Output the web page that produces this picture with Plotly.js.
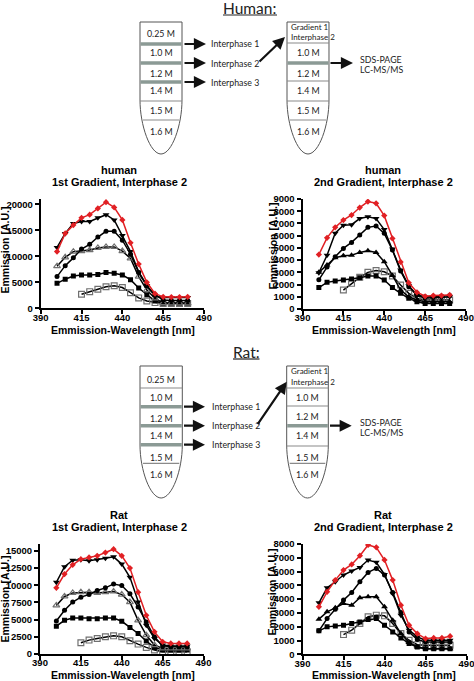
<!DOCTYPE html>
<html><head><meta charset="utf-8">
<script src="https://cdn.plot.ly/plotly-3.0.1.min.js"></script>
<style>html,body{margin:0;padding:0;background:#fff;} #chart{width:474px;height:681px;}</style>
</head><body><div id="chart"></div>
<script>
// ---------------- DATA ----------------
const wavelengths = [400,405,410,415,420,425,430,435,440,445,450,455,460,465,470,475,480];
const wavelengthsFrom415 = [415,420,425,430,435,440,445,450,455,460,465,470,475,480];
const wavelengthTicks = [390,415,440,465,490];

// human, 1st gradient, interphase 2
const human1Red        = [10900,14400,16000,17400,18000,19200,20400,19400,17000,12600,8500,5000,2800,2200,2150,2150,2200];
const human1DownTri    = [11700,14400,16300,16700,16700,17400,18000,17000,14000,10900,7000,4400,2300,2100,2100,2100,2100];
const human1Circle     = [6100,8200,9700,11400,12300,13700,14800,14800,13100,10400,6900,4300,2600,1600,1500,1500,1500];
const human1OpenTri    = [8100,9800,10900,11000,11200,11600,11800,11800,11000,9600,6100,3500,1900,1000,950,950,950];
const human1Square     = [4800,5600,6200,6400,6400,6500,6900,6750,6400,5500,3900,2600,1400,950,950,950,950];
const human1OpenSquare = [2700,3200,3650,4150,4350,4000,3000,2000,1400,1100,900,900,900,900];

// human, 2nd gradient, interphase 2
const human2Red        = [4450,5820,6680,7280,7690,8300,8790,8650,7640,5770,3850,2140,1370,1040,1100,1100,1150];
const human2DownTri    = [2970,4400,6200,6850,6900,7400,7550,7400,6500,4900,3200,1900,1100,900,900,950,1000];
const human2Circle     = [2390,3430,4280,4960,5450,6050,6680,6790,6190,4820,3100,1830,1140,1000,1000,1050,1100];
const human2UpTri      = [3000,3600,4200,4360,4400,4630,4770,4630,3870,2750,1550,1000,740,600,600,600,600];
const human2Square     = [1750,2180,2290,2370,2450,2560,2700,2700,2370,1750,1280,870,600,460,460,460,460];
const human2OpenSquare = [1550,2100,2590,3000,3150,3050,2700,1960,1280,870,740,740,740,740];

// rat, 1st gradient, interphase 2
const rat1Red        = [9620,11630,12980,13800,14040,14280,14760,15240,14280,12500,8990,5630,3220,1780,1540,1540,1540];
const rat1DownTri    = [10430,12690,13650,13700,13560,13700,13940,14130,13080,11150,7550,4180,2260,1300,1150,1150,1150];
const rat1OpenTri    = [7070,8370,8890,8990,8990,8890,8990,9090,8650,7550,4900,2740,1300,820,820,820,820];
const rat1Circle     = [4810,6350,7550,8270,8650,9230,9620,10190,9950,8750,6830,4660,2500,1150,1060,1060,1060];
const rat1Square     = [4040,4900,5240,5240,5140,5140,5240,5240,4760,3850,2980,1880,960,580,580,580,580];
const rat1OpenSquare = [1630,2020,2260,2500,2640,2500,1920,1440,960,580,340,340,340,340];

// rat, 2nd gradient, interphase 2
const rat2Red        = [3440,4530,5380,6110,6520,7150,7930,7760,6840,5380,3560,2110,1500,1140,1190,1190,1310];
const rat2DownTri    = [3730,4820,5260,5750,6040,6300,6840,6670,5790,4410,2840,1750,1260,1020,1020,1020,1020];
const rat2Circle     = [1700,2590,3270,3930,4480,5260,5940,6230,5750,4480,3030,1620,1070,900,900,900,900];
const rat2UpTri      = [2550,3080,3370,3680,3560,4100,4170,4170,3440,2470,1500,850,530,410,410,410,410];
const rat2Square     = [1700,1990,2060,2110,2230,2350,2520,2590,2110,1620,1190,780,530,410,410,410,410];
const rat2OpenSquare = [1430,1750,2230,2720,2840,2790,2230,1500,1020,700,650,650,650,650];

const panelTitles = [["human","1st Gradient, Interphase 2"],["human","2nd Gradient, Interphase 2"],["Rat","1st Gradient, Interphase 2"],["Rat","2nd Gradient, Interphase 2"]];
const yTitle = "Emmission [A.U.]";
const xTitle = "Emmission-Wavelength [nm]";

// ---------------- HELPERS ----------------
const W = 474, H = 681;
const X = p => p / W;
const Y = p => 1 - p / H;
const AX_FONT = "Liberation Sans, Arial, sans-serif";
const DIA_FONT = "Lato, Carlito, sans-serif";
const RED = "rgb(225,32,36)";

const STYLE = {
  red:        {line: RED,    marker: {symbol: "diamond", size: 4.8, color: RED}},
  down:       {line: "#000", marker: {symbol: "triangle-down", size: 6, color: "#000"}},
  circle:     {line: "#000", marker: {symbol: "circle", size: 5, color: "#000"}},
  openTri:    {line: "#000", marker: {symbol: "triangle-up-open", size: 6, color: "#707070", line: {width: 1.2}}},
  upTri:      {line: "#000", marker: {symbol: "triangle-up", size: 6, color: "#000"}},
  square:     {line: "#000", marker: {symbol: "square", size: 5, color: "#000"}},
  openSquare: {line: "#000", marker: {symbol: "square-open", size: 5.8, color: "#707070", line: {width: 1.2}}}
};

function series(xa, ya, xs, ys, key) {
  const s = STYLE[key];
  return {type: "scatter", mode: "lines+markers", x: xs, y: ys, xaxis: xa, yaxis: ya,
    line: {color: s.line, width: 1.5}, marker: s.marker, hoverinfo: "skip"};
}

const panels = [
  {xa: "x",  ya: "y",  data: [["openSquare",human1OpenSquare,true],["square",human1Square],["openTri",human1OpenTri],["circle",human1Circle],["down",human1DownTri],["red",human1Red]]},
  {xa: "x2", ya: "y2", data: [["openSquare",human2OpenSquare,true],["square",human2Square],["upTri",human2UpTri],["circle",human2Circle],["down",human2DownTri],["red",human2Red]]},
  {xa: "x3", ya: "y3", data: [["openSquare",rat1OpenSquare,true],["square",rat1Square],["openTri",rat1OpenTri],["circle",rat1Circle],["down",rat1DownTri],["red",rat1Red]]},
  {xa: "x4", ya: "y4", data: [["openSquare",rat2OpenSquare,true],["square",rat2Square],["upTri",rat2UpTri],["circle",rat2Circle],["down",rat2DownTri],["red",rat2Red]]}
];

const traces = [];
panels.forEach(p => p.data.forEach(d => traces.push(series(p.xa, p.ya, d[2] ? wavelengthsFrom415 : wavelengths, d[1], d[0]))));

// panel geometry (pixels)
const geo = [
  {x0: 40.7, x1: 204,   yb: 308.3, yt: 199.1, ymax: 21000, dt: 5000, tx: 119,   ty: 170, yx: 4.5,   yy: 250, xx: 123, xy: 330},
  {x0: 302.5, x1: 466,  yb: 309,   yt: 199,   ymax: 9000,  dt: 1000, tx: 383,   ty: 170, yx: 272.5, yy: 246, xx: 384, xy: 330},
  {x0: 40,   x1: 203.5, yb: 654,   yt: 544,   ymax: 16000, dt: 2500, tx: 119,   ty: 515, yx: 4.5,   yy: 599, xx: 123, xy: 675},
  {x0: 302.5, x1: 466.5,yb: 654.3, yt: 544,   ymax: 8000,  dt: 1000, tx: 383,   ty: 515, yx: 271.5, yy: 592, xx: 384, xy: 675}
];

const layout = {
  width: W, height: H, margin: {l: 0, r: 0, t: 0, b: 0},
  paper_bgcolor: "#fff", plot_bgcolor: "rgba(0,0,0,0)", showlegend: false,
  shapes: [], annotations: []
};

const tickFont = {family: AX_FONT, size: 9.5, color: "#000", weight: "bold"};
geo.forEach((g, i) => {
  const n = i === 0 ? "" : String(i + 1);
  layout["xaxis" + n] = {domain: [X(g.x0), X(g.x1)], anchor: "y" + n, range: [390, 490], tickvals: wavelengthTicks,
    showline: true, linewidth: 2, linecolor: "#000", ticks: "outside", ticklen: 4, tickwidth: 2, tickcolor: "#000",
    showgrid: false, zeroline: false, tickfont: tickFont, fixedrange: true, ticklabelstandoff: -5, ticklabeloverflow: "allow"};
  layout["yaxis" + n] = {domain: [Y(g.yb), Y(g.yt)], anchor: "x" + n, range: [0, g.ymax], dtick: g.dt, tick0: 0, tickformat: "d",
    showline: true, linewidth: 2, linecolor: "#000", ticks: "outside", ticklen: 4, tickwidth: 2, tickcolor: "#000",
    showgrid: false, zeroline: false, tickfont: tickFont, fixedrange: true, ticklabelstandoff: -2.5, ticklabeloverflow: "allow"};
  const tf = {family: AX_FONT, size: 11, color: "#000", weight: "bold"};
  layout.annotations.push(
    {text: "<b>" + panelTitles[i][0] + "</b>", x: X(g.tx), y: Y(g.ty), xref: "paper", yref: "paper", showarrow: false, xanchor: "center", yanchor: "middle", font: tf},
    {text: "<b>" + panelTitles[i][1] + "</b>", x: X(g.tx), y: Y(g.ty + 12), xref: "paper", yref: "paper", showarrow: false, xanchor: "center", yanchor: "middle", font: tf},
    {text: "<b>" + yTitle + "</b>", x: X(g.yx), y: Y(g.yy), xref: "paper", yref: "paper", showarrow: false, xanchor: "center", yanchor: "middle", textangle: -90, font: {family: AX_FONT, size: 10.5, color: "#000", weight: "bold"}},
    {text: "<b>" + xTitle + "</b>", x: X(g.xx), y: Y(g.xy), xref: "paper", yref: "paper", showarrow: false, xanchor: "center", yanchor: "middle", font: {family: AX_FONT, size: 10.5, color: "#000", weight: "bold"}}
  );
});

// ---------------- DIAGRAMS ----------------
function pathPx(str) {
  return str.replace(/(-?[\d.]+),(-?[\d.]+)/g, (m, a, b) => X(+a).toFixed(5) + "," + Y(+b).toFixed(5));
}
function tube(xl, xr, top, cs, tip) {
  const xc = (xl + xr) / 2;
  layout.shapes.push({type: "path", xref: "paper", yref: "paper",
    path: pathPx(`M${xl},${top} L${xl},${cs} C${xl},${cs + 25} ${xc - 11},${tip} ${xc},${tip} C${xc + 11},${tip} ${xr},${cs + 25} ${xr},${cs} L${xr},${top} Z`),
    fillcolor: "#fff", line: {color: "#555", width: 1}});
}
function band(xl, xr, yc) {
  layout.shapes.push({type: "rect", xref: "paper", yref: "paper", x0: X(xl + 0.5), x1: X(xr - 0.5), y0: Y(yc + 1.7), y1: Y(yc - 1.7),
    fillcolor: "#8b9a95", line: {width: 0}});
}
function divider(xl, xr, y, inset) {
  layout.shapes.push({type: "line", xref: "paper", yref: "paper", x0: X(xl + inset), x1: X(xr - inset), y0: Y(y), y1: Y(y),
    line: {color: "#8a8a8a", width: 1.2}});
}
function label(text, x, y, size, anchor) {
  layout.annotations.push({text: text, x: X(x), y: Y(y), xref: "paper", yref: "paper", showarrow: false,
    xanchor: anchor || "center", yanchor: "middle", font: {family: DIA_FONT, size: size || 8.8, color: "#222"}});
}
function arrow(hx, hy, tx, ty) {
  layout.annotations.push({text: "", x: X(hx), y: Y(hy), xref: "paper", yref: "paper", ax: tx - hx, ay: ty - hy,
    showarrow: true, arrowhead: 2, arrowsize: 1.1, arrowwidth: 2.2, arrowcolor: "#111", standoff: 0});
}
function underline(x0, x1, y) {
  layout.shapes.push({type: "line", xref: "paper", yref: "paper", x0: X(x0), x1: X(x1), y0: Y(y), y1: Y(y), line: {color: "#222", width: 1.2}});
}

// Human diagram
label("Human:", 249.7, 8.5, 15.5);
underline(223, 277, 15);
tube(140, 182, 22, 100, 154);
band(140, 182, 44); band(140, 182, 63); band(140, 182, 82);
divider(140, 182, 101, 0); divider(140, 182, 120, 3);
label("0.25 M", 161, 33); label("1.0 M", 161, 52.5); label("1.2 M", 161, 73.5);
label("1.4 M", 161, 90); label("1.5 M", 161, 110.5); label("1.6 M", 161, 131.5);
arrow(206, 44, 183, 44); arrow(206, 63, 183, 63); arrow(206, 82, 183, 82);
label("Interphase 1", 209, 43.5, 8.8, "left"); label("Interphase 2", 209, 63, 8.8, "left"); label("Interphase 3", 209, 82.5, 8.8, "left");
arrow(285, 37, 258, 63);
tube(287, 329, 22, 100, 154);
divider(287, 329, 43, 0); band(287, 329, 63); divider(287, 329, 81, 0); divider(287, 329, 101, 0); divider(287, 329, 120, 3);
label("Gradient 1", 289, 27.5, 8, "left"); label("Interphase 2", 288.5, 37, 8, "left");
label("1.0 M", 308, 52); label("1.2 M", 308, 74); label("1.4 M", 308, 90); label("1.5 M", 308, 111); label("1.6 M", 308, 131.5);
arrow(353, 63, 329, 63);
label("SDS-PAGE", 358, 59, 8.8, "left"); label("LC-MS/MS", 358, 69, 8.8, "left");

// Rat diagram
label("Rat:", 246, 351.5, 15.5);
underline(233, 259.5, 359);
tube(140, 182.3, 366, 445, 498);
divider(140, 182.3, 388, 0);
band(140, 182.3, 406.7); band(140, 182.3, 425.7); band(140, 182.3, 444.7);
divider(140, 182.3, 463.3, 3);
label("0.25 M", 161, 379.3); label("1.0 M", 161, 397.3); label("1.2 M", 161, 418.3);
label("1.4 M", 161, 435.7); label("1.5 M", 161, 457.3); label("1.6 M", 161, 474.3);
arrow(205, 406.7, 182.5, 406.7); arrow(205, 425.7, 182.5, 425.7); arrow(205, 444.7, 182.5, 444.7);
label("Interphase 1", 210, 406.7, 8.8, "left"); label("Interphase 2", 210, 425.7, 8.8, "left"); label("Interphase 3", 210, 444.7, 8.8, "left");
arrow(286.7, 381.7, 256.7, 425.7);
tube(286.7, 328.3, 366, 445, 498);
divider(286.7, 328.3, 388, 0); divider(286.7, 328.3, 406, 0); band(286.7, 328.3, 425.7);
divider(286.7, 328.3, 446, 0); divider(286.7, 328.3, 463.3, 3);
label("Gradient 1", 288.5, 371, 8, "left"); label("Interphase 2", 288.5, 381.7, 8, "left");
label("1.0 M", 307.5, 397.3); label("1.2 M", 307.5, 416); label("1.4 M", 307.5, 435.7); label("1.5 M", 307.5, 457.3); label("1.6 M", 307.5, 474.3);
arrow(351.7, 425.7, 328.5, 425.7);
label("SDS-PAGE", 358, 422.3, 8.8, "left"); label("LC-MS/MS", 358, 432.7, 8.8, "left");

Plotly.newPlot("chart", traces, layout, {staticPlot: true, displayModeBar: false});
</script>
</body></html>
